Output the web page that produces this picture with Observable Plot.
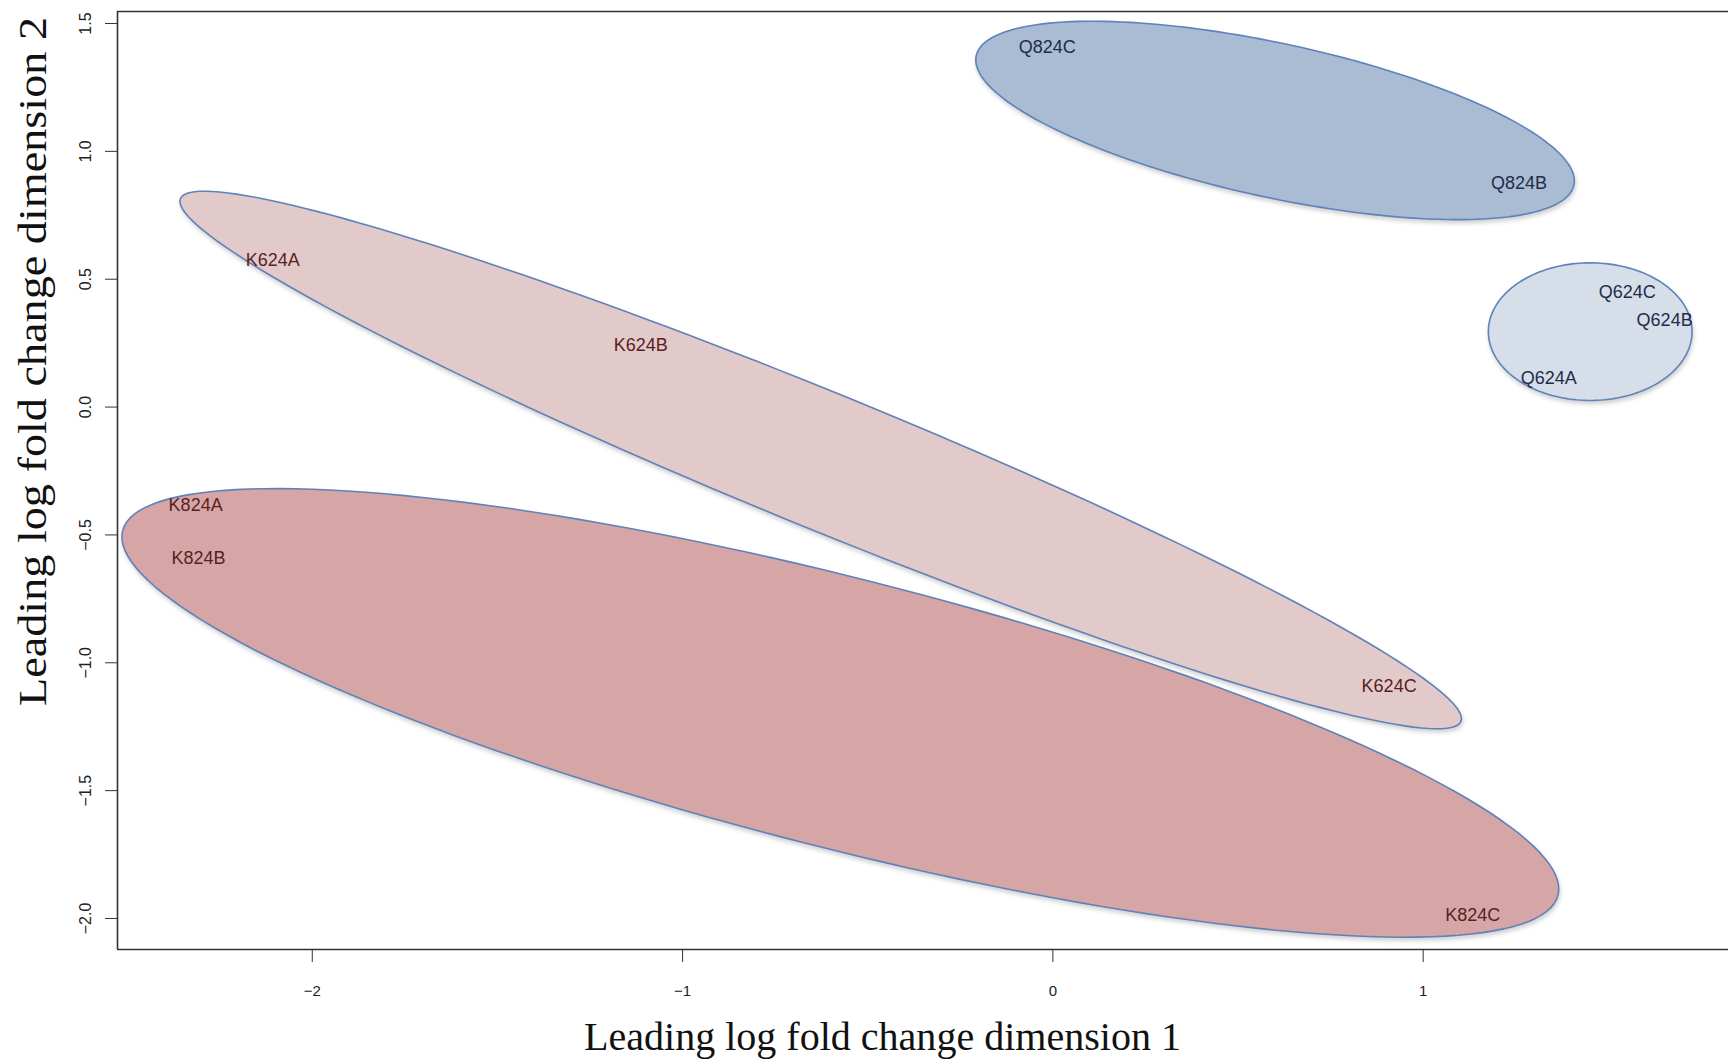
<!DOCTYPE html>
<html>
<head>
<meta charset="utf-8">
<script src="https://cdn.jsdelivr.net/npm/d3@7"></script>
<script src="https://cdn.jsdelivr.net/npm/@observablehq/plot@0.6"></script>
<style>
  html, body { margin: 0; padding: 0; background: #fff; }
  #chart { width: 1728px; height: 1059px; overflow: hidden; }
</style>
</head>
<body>
<div id="chart"></div>
<script>
// ---- data ----
const xTicks = [-2, -1, 0, 1];
const yTicks = [-2.0, -1.5, -1.0, -0.5, 0.0, 0.5, 1.0, 1.5];

const sampleNames = ["Q824C", "Q824B", "Q624C", "Q624B", "Q624A", "K624A", "K624B", "K624C", "K824A", "K824B", "K824C"];
const dim1 = [-0.015, 1.259, 1.551, 1.652, 1.339, -2.107, -1.113, 0.908, -2.315, -2.307, 1.134];
const dim2 = [1.409, 0.875, 0.448, 0.341, 0.112, 0.573, 0.241, -1.091, -0.384, -0.591, -1.987];

// group ellipses: centre, semi-axis vectors (data units)
const ellipseNames = ["K824", "K624", "Q824", "Q624"];
const ellipseCx = [-0.574, -0.627, 0.600, 1.451];
const ellipseCy = [-1.196, -0.207, 1.121, 0.295];
const ellipseUx = [1.938, 1.729, 0.807, 0.275];
const ellipseUy = [-0.713, -1.022, -0.253, 0.0];
const ellipseVx = [-0.090, -0.069, -0.044, 0.0];
const ellipseVy = [-0.511, -0.246, -0.294, 0.269];

const xTitle = "Leading log fold change dimension 1";
const yTitle = "Leading log fold change dimension 2";

// ---- styles ----
const fillOf = {K824: "#d6a6a6", K624: "#e2cacb", Q824: "#a9bcd4", Q624: "#d6dee9"};
const strokeCol = "#5f82b9";
const labelColOf = name => name.startsWith("K") ? "#5a1f1f" : "#1f2d48";

const xDomain = [-2.526, 1.8245];
const yDomain = [-2.1213, 1.547];

// ellipse outlines from the parameters above
function outline(i) {
  const pts = [];
  const n = 180;
  for (let k = 0; k < n; k++) {
    const t = 2 * Math.PI * k / n;
    pts.push({
      g: ellipseNames[i],
      x: ellipseCx[i] + ellipseUx[i] * Math.cos(t) + ellipseVx[i] * Math.sin(t),
      y: ellipseCy[i] + ellipseUy[i] * Math.cos(t) + ellipseVy[i] * Math.sin(t)
    });
  }
  return pts;
}

const points = sampleNames.map((s, i) => ({name: s, x: dim1[i], y: dim2[i]}));

const marks = [];
ellipseNames.forEach((g, i) => {
  marks.push(Plot.line(outline(i), {
    x: "x", y: "y", curve: "linear-closed",
    fill: fillOf[g], stroke: strokeCol, strokeWidth: 1.6
  }));
});

marks.push(
  Plot.text(points, {
    x: "x", y: "y", text: "name",
    fill: d => labelColOf(d.name),
    fontSize: 18, fontFamily: "Liberation Sans",
    textAnchor: "middle", lineAnchor: "middle"
  }),
  // plot box lines (left, top, bottom)
  Plot.ruleX([xDomain[0]], {stroke: "#333", strokeWidth: 1.6}),
  Plot.ruleY([yDomain[0], yDomain[1]], {stroke: "#333", strokeWidth: 1.6}),
  // x tick labels
  Plot.text(xTicks, {
    x: d => d, y: () => yDomain[0], text: d => d3.format("d")(d),
    dy: 41.6, fontSize: 15, fontFamily: "Liberation Sans",
    fill: "#222", textAnchor: "middle", lineAnchor: "middle", clip: false
  }),
  // y tick labels (rotated, R style)
  Plot.text(yTicks, {
    x: () => xDomain[0], y: d => d, text: d => d3.format(".1f")(d),
    rotate: -90, dx: -32, fontSize: 16, fontFamily: "Liberation Sans",
    fill: "#222", textAnchor: "middle", lineAnchor: "middle", clip: false
  }),
  // axis titles
  Plot.text([xTitle], {
    frameAnchor: "bottom", dy: 88, dx: -40.5, text: d => d,
    fontSize: 40, fontFamily: "Liberation Serif", fill: "#111",
    textAnchor: "middle", lineAnchor: "middle"
  }),
  Plot.text([yTitle], {
    frameAnchor: "left", dx: -84, dy: -119, text: d => d, rotate: -90,
    fontSize: 40, fontFamily: "Liberation Serif", fill: "#111",
    textAnchor: "middle", lineAnchor: "middle"
  })
);

const chart = Plot.plot({
  width: 1728,
  height: 1059,
  marginLeft: 117,
  marginRight: 0,
  marginTop: 11,
  marginBottom: 110,
  style: {fontFamily: "Liberation Sans", fontSize: "15px", color: "#333", background: "#fff", overflow: "hidden"},
  x: {domain: xDomain, ticks: xTicks, tickSize: 13, tickFormat: () => "", label: null},
  y: {domain: yDomain, ticks: yTicks, tickSize: 12, tickFormat: () => "", label: null},
  marks
});

document.getElementById("chart").appendChild(chart);

// subtle shadow under the hand-drawn ellipses
d3.select(chart).selectAll('g[aria-label="line"] path')
  .style("filter", "drop-shadow(1px 3px 2px rgba(0,0,0,0.18))");

// the reference's y title is vertically stretched
d3.select(chart).selectAll("text").filter(function() { return this.textContent === yTitle; })
  .attr("textLength", 689).attr("lengthAdjust", "spacingAndGlyphs");
d3.select(chart).selectAll("text").filter(function() { return this.textContent === xTitle; })
  .attr("textLength", 597).attr("lengthAdjust", "spacingAndGlyphs");
</script>
</body>
</html>
